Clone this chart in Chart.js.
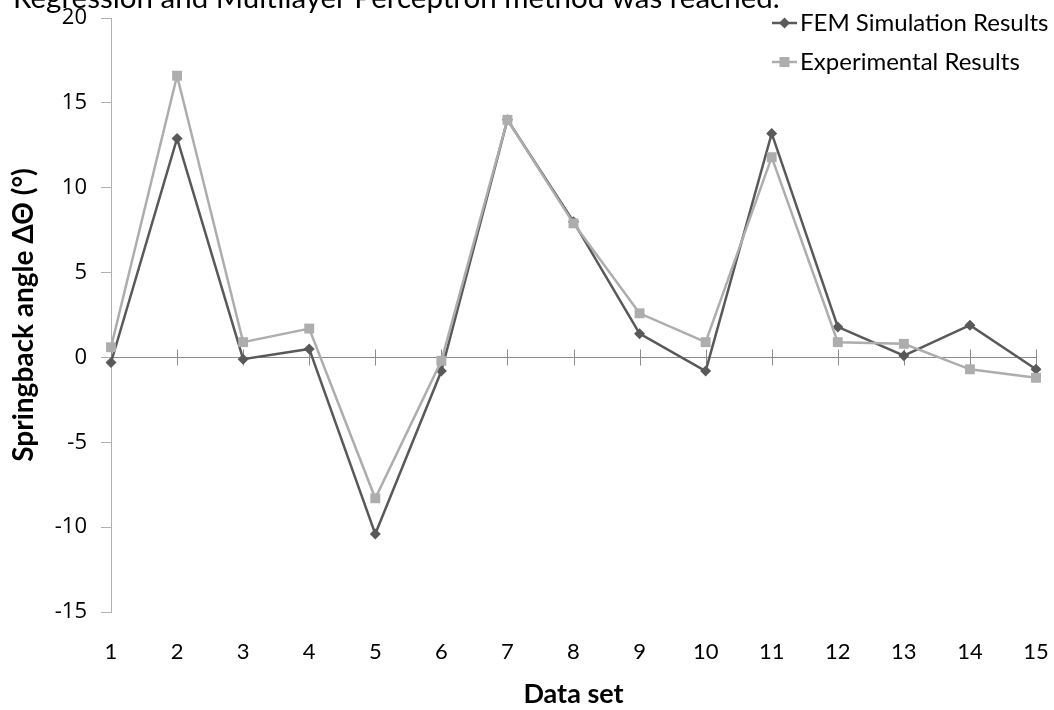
<!DOCTYPE html>
<html><head><meta charset="utf-8">
<script src="https://cdn.jsdelivr.net/npm/chart.js@4.4.0/dist/chart.umd.min.js"></script>
<style>html,body{margin:0;padding:0;background:#fff;overflow:hidden}#wrap{width:1054px;height:710px;position:relative}</style>
</head><body><div id="wrap"><canvas id="c" width="1054" height="710"></canvas></div>
<script>
const categories = ['1','2','3','4','5','6','7','8','9','10','11','12','13','14','15'];
const femValues = [-0.3, 12.9, -0.1, 0.5, -10.4, -0.8, 14.0, 8.0, 1.4, -0.8, 13.2, 1.8, 0.1, 1.9, -0.7];
const expValues = [0.6, 16.6, 0.9, 1.7, -8.3, -0.2, 14.0, 7.9, 2.6, 0.9, 11.8, 0.9, 0.8, -0.7, -1.2];
const yMin = -15, yMax = 20, yStep = 5;
const seriesNames = ['FEM Simulation Results', 'Experimental Results'];
const headerText = 'Regression and Multilayer Perceptron method was reached.';
const yTitle = 'Springback angle ΔΘ (°)';
const xTitle = 'Data set';

const FEM_COLOR = '#595959', EXP_COLOR = '#adadad';
const SANS = 'Lato, "Open Sans", sans-serif';

function drawMarker(ctx, style, x, y, color) {
  ctx.fillStyle = color;
  ctx.beginPath();
  if (style === 'rectRot') {
    const r = 5.5;
    ctx.moveTo(x, y - r); ctx.lineTo(x + r, y); ctx.lineTo(x, y + r); ctx.lineTo(x - r, y); ctx.closePath();
  } else {
    const h = 5;
    ctx.rect(x - h, y - h, 2 * h, 2 * h);
  }
  ctx.fill();
}

const zeroAxis = {
  id: 'zeroAxis',
  beforeDatasetsDraw(chart) {
    const {ctx, chartArea, scales: {x, y}} = chart;
    const y0 = Math.round(y.getPixelForValue(0)) + 0.5;
    ctx.save();
    ctx.strokeStyle = '#8c8c8c';
    ctx.lineWidth = 1;
    ctx.beginPath();
    ctx.moveTo(chartArea.left, y0); ctx.lineTo(chartArea.right, y0);
    categories.forEach((c, i) => {
      const px = Math.round(x.getPixelForValue(i)) + 0.5;
      ctx.moveTo(px, y0 - 8); ctx.lineTo(px, y0 + 8);
    });
    ctx.stroke();
    ctx.restore();
  }
};

const extras = {
  id: 'extras',
  afterDraw(chart) {
    const ctx = chart.ctx;
    ctx.save();
    ctx.font = '29.5px ' + SANS;
    ctx.fillStyle = '#000';
    ctx.textBaseline = 'alphabetic';
    ctx.textAlign = 'left';
    ctx.fillText(headerText, 13, 8);
    const items = [
      {name: seriesNames[0], color: FEM_COLOR, style: 'rectRot'},
      {name: seriesNames[1], color: EXP_COLOR, style: 'rect'}
    ];
    ctx.font = '24px ' + SANS;
    ctx.textBaseline = 'middle';
    items.forEach((it, i) => {
      const ly = 23 + i * 39;
      ctx.strokeStyle = it.color; ctx.lineWidth = 2.5;
      ctx.beginPath(); ctx.moveTo(772, ly); ctx.lineTo(797, ly); ctx.stroke();
      drawMarker(ctx, it.style, 784.5, ly, it.color);
      ctx.fillStyle = '#000';
      ctx.fillText(it.name, 800, ly);
    });
    ctx.restore();
  }
};

new Chart(document.getElementById('c'), {
  type: 'line',
  data: {
    labels: categories,
    datasets: [
      {label: seriesNames[0], data: femValues, borderColor: FEM_COLOR, backgroundColor: FEM_COLOR,
       borderWidth: 2.5, pointStyle: 'rectRot', pointRadius: 5.5, pointBorderWidth: 0, tension: 0, order: 1},
      {label: seriesNames[1], data: expValues, borderColor: EXP_COLOR, backgroundColor: EXP_COLOR,
       borderWidth: 2.5, pointStyle: 'rect', pointRadius: 7, pointBorderWidth: 0, tension: 0, order: 0}
    ]
  },
  options: {
    responsive: false, animation: false, devicePixelRatio: 1,
    layout: {padding: {top: 18, right: 18, left: 0, bottom: 0}},
    plugins: {legend: {display: false}, tooltip: {enabled: false}, title: {display: false}},
    scales: {
      x: {
        type: 'category', offset: false,
        grid: {display: false}, border: {display: false},
        ticks: {font: {family: SANS, size: 22}, color: '#000', padding: 19, maxRotation: 0, autoSkip: false},
        title: {display: true, text: xTitle, font: {family: SANS, size: 27, weight: 'bold'}, color: '#000', padding: {top: 0, bottom: 0}},
        afterFit(s) { s.height = 98; s.paddingLeft = 0; s.paddingRight = 0; }
      },
      y: {
        min: yMin, max: yMax,
        ticks: {stepSize: yStep, font: {family: '"Open Sans", sans-serif', size: 22}, color: '#000', padding: 14},
        grid: {drawOnChartArea: false, drawTicks: true, tickLength: 10, color: '#b0b0b0'},
        border: {display: true, color: '#b0b0b0', width: 1},
        title: {display: true, text: yTitle, font: {family: SANS, size: 28, weight: 'bold'}, color: '#000', padding: {top: 7, bottom: 0}},
        afterFit(s) { s.width = 111; s.paddingTop = 0; s.paddingBottom = 0; }
      }
    }
  },
  plugins: [zeroAxis, extras]
});
</script>
</body></html>
